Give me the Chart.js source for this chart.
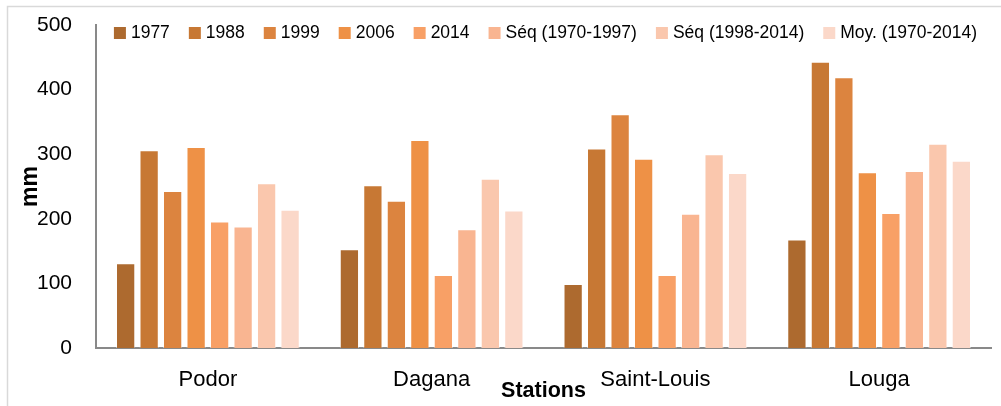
<!DOCTYPE html>
<html>
<head>
<meta charset="utf-8">
<script src="https://cdn.jsdelivr.net/npm/chart.js@4/dist/chart.umd.min.js"></script>
<style>
  html, body { margin: 0; padding: 0; background: #fff; }
  #wrap { width: 1001px; height: 406px; }
</style>
</head>
<body>
<div id="wrap"><canvas id="myChart" width="1001" height="406"></canvas></div>
<script>
  'use strict'

  // Data (mm)
  const stations = ['Podor', 'Dagana', 'Saint-Louis', 'Louga']
  const seriesNames = ['1977', '1988', '1999', '2006', '2014', 'Séq (1970-1997)', 'Séq (1998-2014)', 'Moy. (1970-2014)']
  const v1977 = [131, 153, 99, 168]
  const v1988 = [306, 252, 309, 443]
  const v1999 = [243, 228, 362, 419]
  const v2006 = [311, 322, 293, 272]
  const v2014 = [196, 113, 113, 209]
  const seq7097 = [188, 184, 208, 274]
  const seq9814 = [255, 262, 300, 316]
  const moy7014 = [214, 213, 271, 290]
  const yTicks = [0, 100, 200, 300, 400, 500]

  const colors = ['#AD6A2F', '#C77834', '#DC843F', '#EE9146', '#F8A066', '#F9B591', '#FAC7AD', '#FBD8C9']
  const values = [v1977, v1988, v1999, v2006, v2014, seq7097, seq9814, moy7014]
  const FONT = "'Liberation Sans', Arial, sans-serif"

  // light frame like the Excel chart area (left and top edges only are visible)
  const framePlugin = {
    id: 'frame',
    beforeDraw(chart) {
      const c = chart.ctx
      c.save()
      c.strokeStyle = '#D9D9D9'
      c.lineWidth = 1.5
      c.beginPath()
      c.moveTo(7.5, 420)
      c.lineTo(7.5, 6.5)
      c.lineTo(1010, 6.5)
      c.stroke()
      c.restore()
    }
  }

  // legend drawn inside the plot area, centred above the bars
  const legendPlugin = {
    id: 'innerLegend',
    afterDraw(chart) {
      const c = chart.ctx
      const box = 12, gap = 5, spacing = 19
      c.save()
      c.font = '17.5px ' + FONT
      const items = chart.data.datasets.map(ds => ({
        label: ds.label,
        color: ds.backgroundColor,
        w: box + gap + c.measureText(ds.label).width
      }))
      const total = items.reduce((s, it) => s + it.w, 0) + spacing * (items.length - 1)
      const area = chart.chartArea
      let x = (area.left + area.right) / 2 - total / 2 + 2
      const y = 33
      c.textBaseline = 'middle'
      c.textAlign = 'left'
      items.forEach(it => {
        c.fillStyle = it.color
        c.fillRect(x, y - box / 2, box, box)
        c.fillStyle = '#000'
        c.fillText(it.label, x + box + gap, y)
        x += it.w + spacing
      })
      c.restore()
    }
  }

  const ctx = document.getElementById('myChart')
  // eslint-disable-next-line no-unused-vars
  const myChart = new Chart(ctx, {
    type: 'bar',
    data: {
      labels: stations,
      datasets: seriesNames.map((name, i) => ({
        label: name,
        data: values[i],
        backgroundColor: colors[i],
        borderColor: 'rgba(255,255,255,0.45)',
        borderWidth: 1,
        categoryPercentage: 0.84,
        barPercentage: 0.82
      }))
    },
    options: {
      responsive: false,
      animation: false,
      layout: {
        padding: { left: 0, right: 10, top: 25, bottom: 0 }
      },
      plugins: {
        legend: { display: false },
        tooltip: { enabled: false }
      },
      scales: {
        x: {
          grid: { display: false, drawTicks: false },
          border: { display: true, color: '#898989', width: 2 },
          ticks: {
            color: '#000',
            padding: 19,
            font: { family: FONT, size: 22 }
          },
          title: {
            display: true,
            text: 'Stations',
            color: '#000',
            padding: { top: 0, bottom: 2 },
            font: { family: FONT, size: 21.5, weight: 'bold' }
          },
          afterFit(scale) { scale.height = 58 }
        },
        y: {
          min: 0,
          max: 500,
          afterBuildTicks(scale) { scale.ticks = yTicks.map(v => ({ value: v })) },
          grid: { display: false, drawTicks: false },
          border: { display: true, color: '#898989', width: 2 },
          ticks: {
            color: '#000',
            padding: 24,
            font: { family: FONT, size: 21 }
          },
          title: {
            display: true,
            text: 'mm',
            color: '#000',
            padding: { top: 17, bottom: 0 },
            font: { family: FONT, size: 23, weight: 'bold' }
          },
          afterFit(scale) {
            scale.width = 96
            scale.paddingTop = 0
            scale.paddingBottom = 0
          }
        }
      }
    },
    plugins: [framePlugin, legendPlugin]
  })
</script>
</body>
</html>
